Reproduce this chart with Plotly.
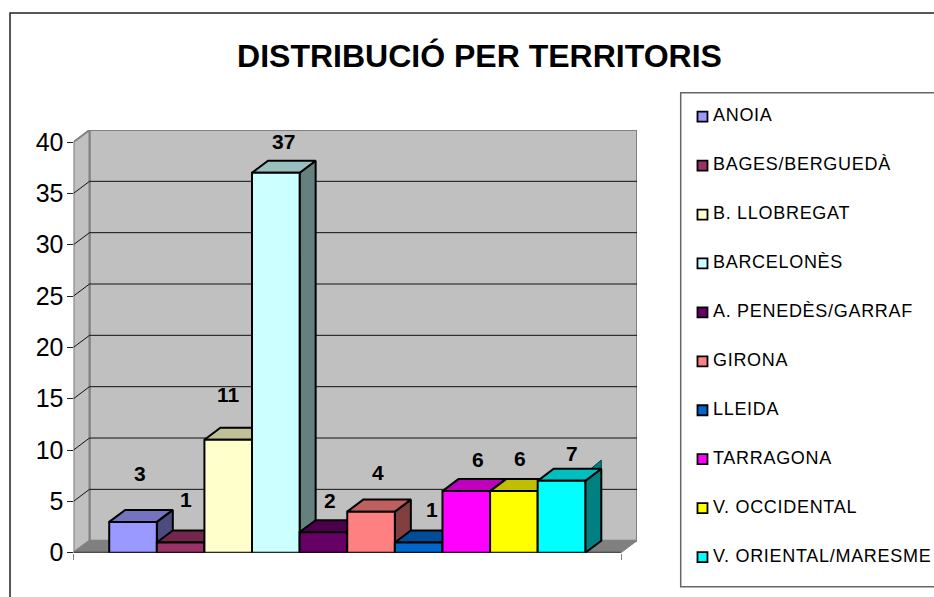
import plotly.graph_objects as go

TITLE = "DISTRIBUCIÓ PER TERRITORIS"
CATEGORIES = ["ANOIA", "BAGES/BERGUEDÀ", "B. LLOBREGAT", "BARCELONÈS", "A. PENEDÈS/GARRAF",
              "GIRONA", "LLEIDA", "TARRAGONA", "V. OCCIDENTAL", "V. ORIENTAL/MARESME"]
VALUES = [3, 1, 11, 37, 2, 4, 1, 6, 6, 7]
COLORS = ["#9999FF", "#993366", "#FFFFCC", "#CCFFFF", "#660066",
          "#FF8080", "#0066CC", "#FF00FF", "#FFFF00", "#00FFFF"]
Y_TICKS = [0, 5, 10, 15, 20, 25, 30, 35, 40]

# label placement offsets in pixels from each bar's top-centre
LABEL_DX = [6.5, 5, 0, 8, 7, 7, 13, 12, 6, 11]
LABEL_DY = [48, 43, 45, 31, 32, 39, 33, 32, 33, 27]

W, H = 934, 597
FONT = "Liberation Sans, Arial, sans-serif"
GAP = 0.75            # category units on each side of the bar run
DX, DY = 0.336, 1.17  # isometric depth in axis units
FL = -0.5 - GAP
FR = len(VALUES) - 0.5 + GAP
YTOP = max(Y_TICKS)
BAR_LINE = 2


def shade(hex_color, k):
    r, g, b = (int(hex_color[i:i + 2], 16) for i in (1, 3, 5))
    return f"rgb({round(r * k)},{round(g * k)},{round(b * k)})"


def poly(xs, ys, fill, line, width, z):
    return go.Scatter(x=xs + xs[:1], y=ys + ys[:1], mode="lines", fill="toself", fillcolor=fill,
                      line=dict(color=line, width=width), cliponaxis=False, zorder=z,
                      hoverinfo="skip", showlegend=False)


fig = go.Figure()
WALL, EDGE, FLOOR = "#C0C0C0", "#808080", "#808080"

fig.add_trace(poly([FL + DX, FR + DX, FR + DX, FL + DX], [DY, DY, YTOP + DY, YTOP + DY], WALL, EDGE, 2, 0))
fig.add_trace(poly([FL, FL + DX, FL + DX, FL], [0, DY, YTOP + DY, YTOP], WALL, EDGE, 2, 0))
fig.add_trace(poly([FL, FR, FR + DX, FL + DX], [0, 0, DY, DY], FLOOR, FLOOR, 1, 0))

for t in Y_TICKS[1:-1]:
    fig.add_trace(go.Scatter(x=[FL, FL + DX, FR + DX], y=[t, t + DY, t + DY], mode="lines",
                             line=dict(color="#111111", width=1), cliponaxis=False, zorder=1,
                             hoverinfo="skip", showlegend=False))

fig.add_trace(go.Scatter(x=[FL, FR], y=[0, 0], mode="lines", line=dict(color="#333333", width=2),
                         cliponaxis=False, zorder=1, hoverinfo="skip", showlegend=False))

z = 2
for i, (v, c) in enumerate(zip(VALUES, COLORS)):
    l, r = i - 0.5, i + 0.5
    if i == len(VALUES) - 1:
        # small sliver that sticks out above the last bar's side face in the original
        fig.add_trace(poly([r + DX - 0.22, r + DX, r + DX], [v + DY, v + DY + 0.85, v + DY],
                           shade(c, 0.5), "#004040", 1, z))
        z += 1
    fig.add_trace(poly([r, r + DX, r + DX, r], [0, DY, v + DY, v], shade(c, 0.5), "#000000", BAR_LINE, z))
    fig.add_trace(poly([l, r, r + DX, l + DX], [v, v, v + DY, v + DY], shade(c, 0.75), "#000000", BAR_LINE, z + 1))
    fig.add_trace(go.Bar(x=[i], y=[v], width=1, name=CATEGORIES[i], cliponaxis=False, zorder=z + 2,
                         marker=dict(color=c, line=dict(color="#000000", width=BAR_LINE)),
                         hoverinfo="name+y", showlegend=False))
    z += 3

# legend panel
fig.add_trace(go.Scatter(x=[0.086] * len(CATEGORIES), y=CATEGORIES, xaxis="x2", yaxis="y2",
                         mode="markers",
                         marker=dict(symbol="square", size=10, color=COLORS,
                                     line=dict(color="#000000", width=1.8)),
                         cliponaxis=False, hoverinfo="skip", showlegend=False, zorder=z))
fig.add_trace(go.Scatter(x=[0.1275] * len(CATEGORIES), y=CATEGORIES, xaxis="x2", yaxis="y2",
                         mode="text", text=CATEGORIES, textposition="middle right",
                         textfont=dict(family=FONT, size=18, color="#000000"),
                         cliponaxis=False, hoverinfo="skip", showlegend=False, zorder=z))

annotations = [dict(x=i, y=v, xref="x", yref="y", text=f"<b>{v}</b>", showarrow=False,
                    xshift=dx, yshift=dy, font=dict(family=FONT, size=21, color="#000000"),
                    xanchor="center", yanchor="middle")
               for i, (v, dx, dy) in enumerate(zip(VALUES, LABEL_DX, LABEL_DY))]


def px(x):
    return x / W


def py(y):
    return 1 - y / H


fig.update_layout(
    width=W, height=H, margin=dict(l=0, r=0, t=0, b=0, pad=0), autosize=False,
    paper_bgcolor="#FFFFFF", plot_bgcolor="rgba(0,0,0,0)", barmode="overlay", showlegend=False,
    title=dict(text=f"<b>{TITLE}</b>", x=479.5 / W, y=py(56), xanchor="center", yanchor="middle",
               font=dict(family=FONT, size=32, color="#000000")),
    xaxis=dict(domain=[px(73.5), px(637)], range=[FL, FR + DX], tickmode="array", tickvals=[FL, FR],
               ticktext=["", ""], ticks="outside", ticklen=6, tickcolor="#808080", tickwidth=1,
               showgrid=False, zeroline=False, showline=False, anchor="y", automargin=False),
    yaxis=dict(domain=[py(552.7), py(130)], range=[0, YTOP + DY], tickmode="array", tickvals=Y_TICKS,
               ticks="outside", ticklen=6, tickcolor="#222222", tickwidth=1, showgrid=False,
               zeroline=False, showline=False, anchor="x", automargin=False, ticklabelstandoff=-2,
               tickfont=dict(family=FONT, size=25, color="#000000")),
    xaxis2=dict(domain=[px(680.7), 1], range=[0, 1], visible=False, anchor="y2", automargin=False),
    yaxis2=dict(domain=[py(581.5), py(92.2)], range=[len(CATEGORIES) - 0.5, -0.5], type="category",
                categoryorder="array", categoryarray=CATEGORIES, visible=False, anchor="x2", automargin=False),
    annotations=annotations,
    shapes=[
        dict(type="rect", xref="paper", yref="paper", x0=px(10), y0=py(640), x1=px(980), y1=py(13),
             line=dict(color="#222222", width=1.5), fillcolor="rgba(0,0,0,0)", layer="below"),
        dict(type="rect", xref="paper", yref="paper", x0=px(680.7), y0=py(586.7), x1=px(980), y1=py(92.7),
             line=dict(color="#666666", width=1.5), fillcolor="rgba(0,0,0,0)", layer="below"),
    ],
)

fig.write_html("out.html", config={"displayModeBar": False},
               post_script=("document.body.style.margin='0';document.body.style.overflow='hidden';"
                            "var s=document.createElement('style');"
                            "s.textContent='.textpoint text{letter-spacing:.7px}';"
                            "document.head.appendChild(s);"))
